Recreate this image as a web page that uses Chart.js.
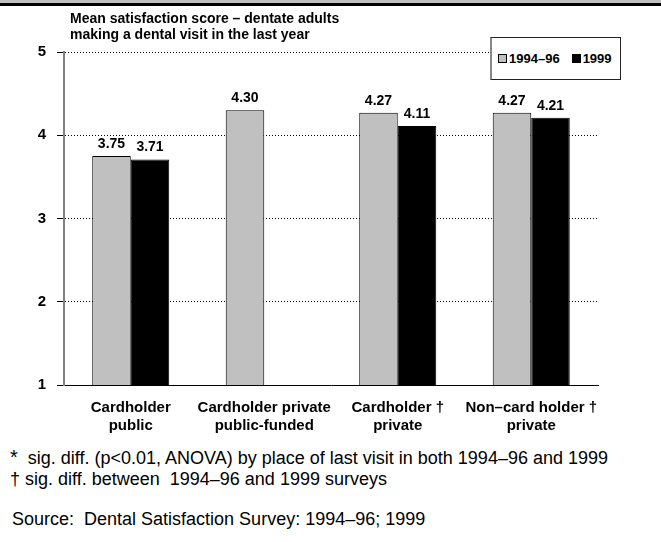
<!DOCTYPE html>
<html>
<head>
<meta charset="utf-8">
<script src="https://cdn.jsdelivr.net/npm/chart.js@4/dist/chart.umd.min.js"></script>
<style>
  body { margin: 0; background: #fff; font-family: "Liberation Sans", Arial, sans-serif; }
  #page { position: relative; width: 661px; height: 542px; overflow: hidden; }
  #band { position: absolute; left: 0; top: 0; width: 661px; height: 3px; background: #c0c0c0; }
  #bandLine { position: absolute; left: 0; top: 3px; width: 661px; height: 3px; background: #000; }
  #chartBox { position: absolute; left: 0; top: 0; }
  #ytitle { position: absolute; left: 70px; top: 10px; font-weight: bold; font-size: 14px; line-height: 16px; color: #000; }
  #legend { position: absolute; left: 490px; top: 37px; width: 131px; height: 43px; background: #fff;
            border: 1px solid #222; border-left: 2px solid #888; display: flex; align-items: center; padding-left: 6px; box-sizing: border-box; }
  .item { display: flex; align-items: center; font-weight: bold; font-size: 13px; margin-right: 12px; white-space: nowrap; }
  .sw { width: 7px; height: 7px; border: 1px solid #000; margin-right: 2px; flex: none; }
  .note { position: absolute; left: 10px; font-size: 18px; color: #000; white-space: nowrap; }
</style>
</head>
<body>
<div id="page">
  <div id="band"></div>
  <div id="bandLine"></div>
  <div id="chartBox"><canvas id="satChart" width="661" height="440"></canvas></div>
  <div id="ytitle">Mean satisfaction score &#8211; dentate adults<br>making a dental visit in the last year</div>
  <div id="legend"></div>
  <div class="note" style="top:446px;"><span style="font-size:20px;">*</span>&nbsp; sig. diff. (p&lt;0.01, ANOVA) by place of last visit in both 1994&#8211;96 and 1999</div>
  <div class="note" style="top:469px;">&#8224; sig. diff. between&nbsp; 1994&#8211;96 and 1999 surveys</div>
  <div class="note" style="top:509px; left:12px;">Source:&nbsp; Dental Satisfaction Survey: 1994&#8211;96; 1999</div>
</div>
<script>
const categories = [
  ['Cardholder', 'public'],
  ['Cardholder private', 'public-funded'],
  ['Cardholder \u2020', 'private'],
  ['Non\u2013card holder \u2020', 'private']
];
const seriesNames = ['1994\u201396', '1999'];
const scores9496 = [3.75, 4.30, 4.27, 4.27];
const scores1999 = [3.71, null, 4.11, 4.21];
const yTicks = [1, 2, 3, 4, 5];

const barColors = ['#c0c0c0', '#000000'];

// value labels above each bar
const valueLabels = {
  id: 'valueLabels',
  afterDatasetsDraw(chart) {
    const ctx = chart.ctx;
    ctx.save();
    ctx.font = 'bold 14px "Liberation Sans", Arial, sans-serif';
    ctx.fillStyle = '#000';
    ctx.textAlign = 'center';
    ctx.textBaseline = 'alphabetic';
    chart.data.datasets.forEach((ds, i) => {
      const meta = chart.getDatasetMeta(i);
      meta.data.forEach((bar, j) => {
        const v = ds.data[j];
        if (v == null) return;
        ctx.fillText(v.toFixed(2), bar.x, bar.y - 8);
      });
    });
    ctx.restore();
  }
};

const ctx = document.getElementById('satChart').getContext('2d');
const myChart = new Chart(ctx, {
  type: 'bar',
  data: {
    labels: categories,
    datasets: [
      { label: seriesNames[0], data: scores9496, backgroundColor: barColors[0], borderColor: '#000', borderWidth: 1 },
      { label: seriesNames[1], data: scores1999, backgroundColor: barColors[1], borderColor: '#000', borderWidth: 1 }
    ]
  },
  options: {
    responsive: false,
    animation: false,
    layout: { padding: { left: 30, right: 63, top: 52, bottom: 0 } },
    categoryPercentage: 0.577,
    barPercentage: 1,
    plugins: { legend: { display: false }, tooltip: { enabled: false } },
    scales: {
      x: {
        offset: true,
        grid: { display: false },
        border: { display: true, color: '#000', width: 1 },
        ticks: {
          color: '#000',
          maxRotation: 0,
          autoSkip: false,
          padding: 6,
          font: { family: '"Liberation Sans", Arial, sans-serif', size: 15, weight: 'bold', lineHeight: 1.2 }
        },
        afterFit(scale) { scale.height = 55; }
      },
      y: {
        min: yTicks[0],
        max: yTicks[yTicks.length - 1],
        afterBuildTicks(scale) { scale.ticks = yTicks.map(v => ({ value: v })); },
        grid: {
          color: c => (c.tick && c.tick.value === 1) ? 'rgba(0,0,0,0)' : '#000',
          tickColor: '#000',
          tickLength: 7,
          tickBorderDash: []
        },
        border: { display: true, color: '#808080', width: 2, dash: [1, 2] },
        ticks: {
          color: '#000',
          padding: 11,
          font: { family: '"Liberation Sans", Arial, sans-serif', size: 15, weight: 'bold' }
        },
        afterFit(scale) { scale.width = 34; }
      }
    }
  },
  plugins: [valueLabels]
});

// legend box, made from the datasets
const legendDiv = document.getElementById('legend');
myChart.data.datasets.forEach(ds => {
  const item = document.createElement('div');
  item.className = 'item';
  const sw = document.createElement('div');
  sw.className = 'sw';
  sw.style.background = ds.backgroundColor;
  item.appendChild(sw);
  item.appendChild(document.createTextNode(ds.label));
  legendDiv.appendChild(item);
});
</script>
</body>
</html>
